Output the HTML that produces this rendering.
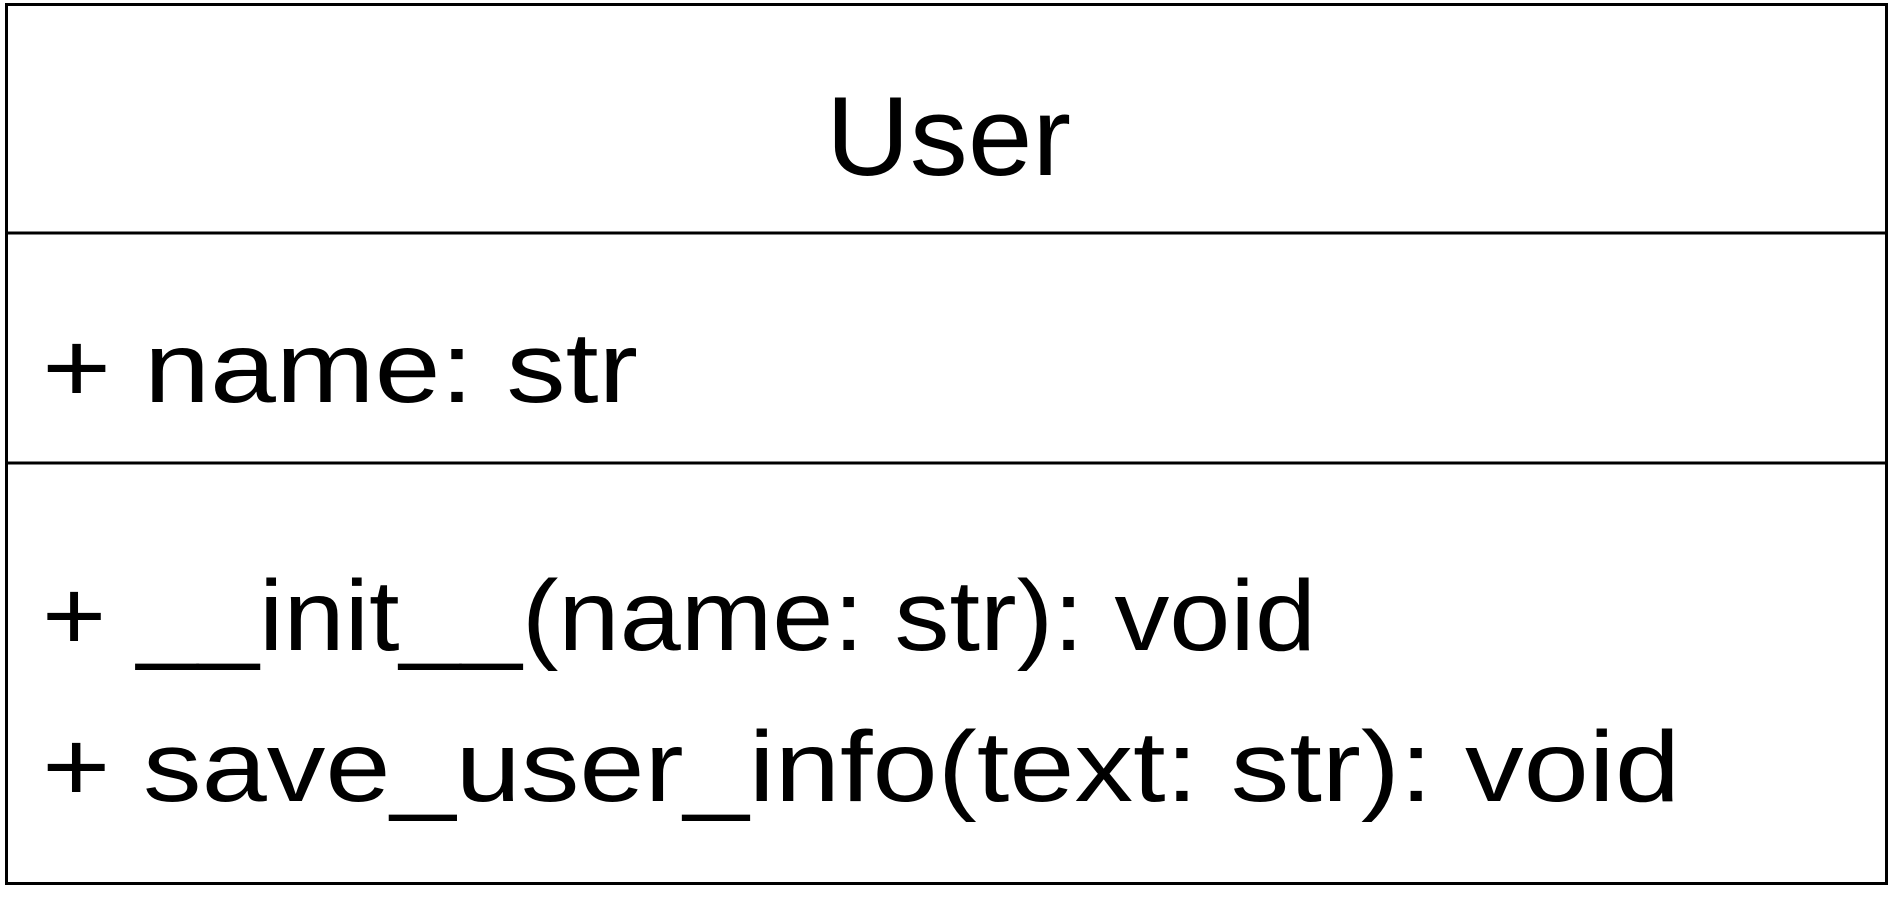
<!DOCTYPE html>
<html><head><meta charset="utf-8"><style>
html,body{margin:0;padding:0;background:#fff;width:1897px;height:912px;overflow:hidden}
svg text{font-family:"Liberation Sans","Noto Sans CJK JP",sans-serif;fill:#000}
</style></head><body>
<svg width="1897" height="912" viewBox="0 0 1897 912" xmlns="http://www.w3.org/2000/svg">
<rect x="0" y="0" width="1897" height="912" fill="#fff"/>
<rect x="6.5" y="4.5" width="1880" height="879" fill="#fff" stroke="#000" stroke-width="3"/>
<line x1="6" y1="233" x2="1887" y2="233" stroke="#000" stroke-width="3"/>
<line x1="6" y1="463" x2="1887" y2="463" stroke="#000" stroke-width="3"/>
<text x="826" y="175" font-size="112" textLength="245" lengthAdjust="spacingAndGlyphs">User</text>
<text x="42" y="402" font-size="100" textLength="596" lengthAdjust="spacingAndGlyphs">+ name: str</text>
<text x="42" y="650" font-size="100" textLength="1274" lengthAdjust="spacingAndGlyphs">+ __init__(name: str): void</text>
<text x="42" y="801" font-size="100" textLength="1638" lengthAdjust="spacingAndGlyphs">+ save_user_info(text: str): void</text>
</svg>
</body></html>
